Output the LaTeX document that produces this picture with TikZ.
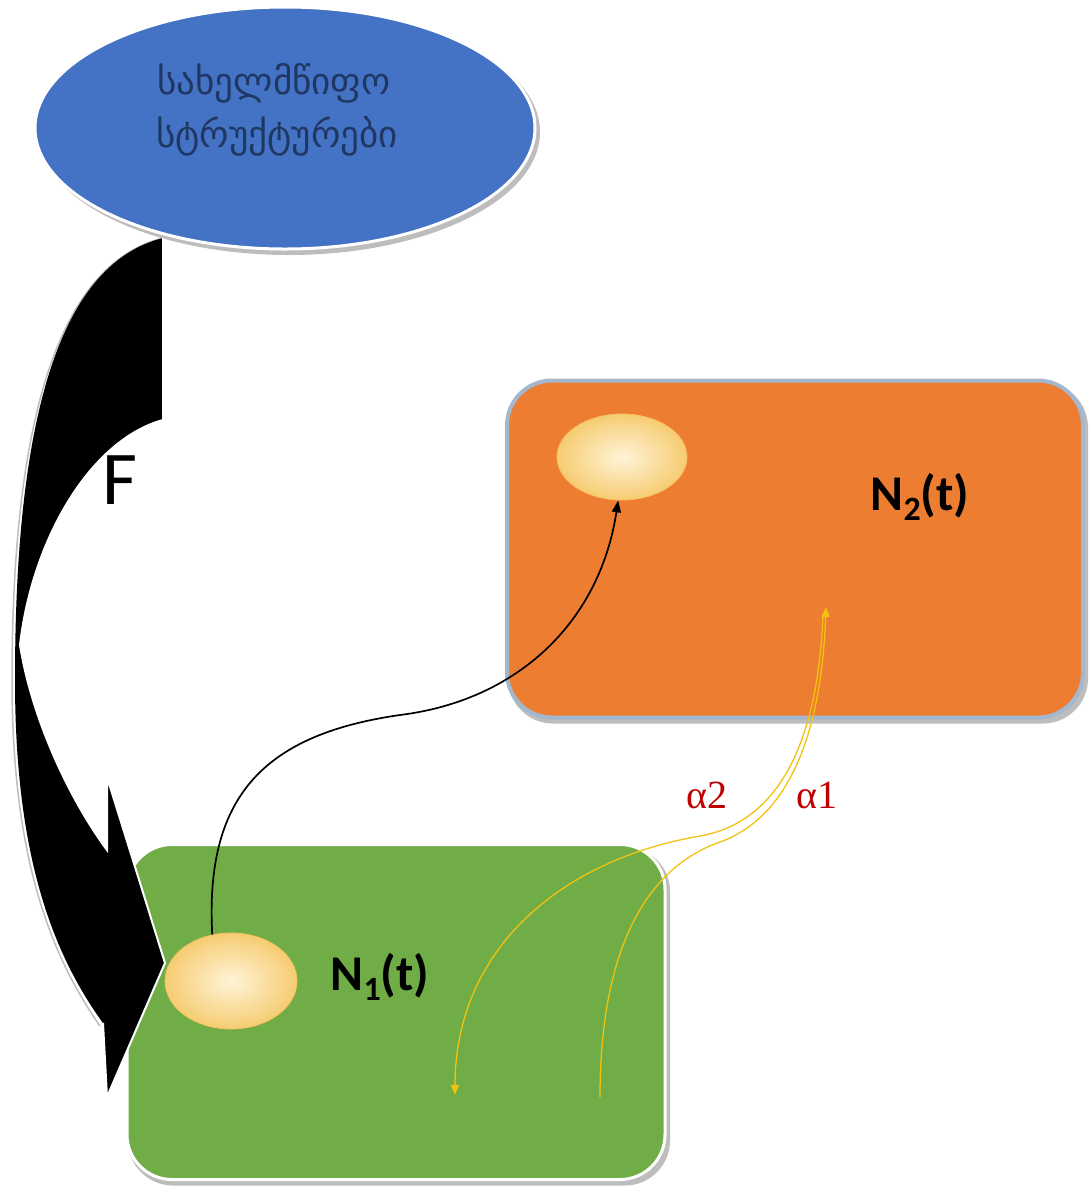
\documentclass[tikz,border=0pt]{standalone}
\usepackage{fontspec}
\usetikzlibrary{shapes.geometric,arrows.meta}
\newfontfamily\geofont{DejaVu Sans}
\newfontfamily\calfont{Carlito}
\newfontfamily\serfont{Liberation Serif}
\definecolor{stblue}{HTML}{4472C4}
\definecolor{geotext}{HTML}{1F3763}
\definecolor{boxorange}{HTML}{ED7D31}
\definecolor{orborder}{HTML}{A3B7CE}
\definecolor{boxgreen}{HTML}{70AD47}
\definecolor{yel}{HTML}{F2C20F}
\definecolor{alphared}{HTML}{C00000}
\definecolor{shadowgray}{HTML}{BDBDBD}
\definecolor{creamin}{HTML}{FFF4D8}
\definecolor{creamout}{HTML}{F6CC72}
\tikzset{
  statebox/.style={ellipse, fill=stblue, draw=white, line width=3pt, inner sep=0pt,
    minimum width=500pt, minimum height=242pt},
  popbox/.style={rectangle, rounded corners=45pt, inner sep=0pt},
  cell/.style={ellipse, inner sep=0pt, shade, inner color=creamin, outer color=creamout,
    draw=creamout!85!orange, line width=0.8pt},
  poplabel/.style={font=\calfont\bfseries\fontsize{50}{60}\selectfont, text=black, inner sep=0pt},
  alphalabel/.style={font=\serfont\fontsize{40}{46}\selectfont, text=alphared, inner sep=0pt},
  migr/.style={draw=yel, line width=1.3pt, -{Triangle[length=10pt,width=8pt]}},
  transfer/.style={draw=black, line width=1.7pt, -{Triangle[length=12pt,width=9pt]}},
  georgian/.style={font=\geofont\fontsize{37}{44}\selectfont, text=geotext, inner sep=0pt}
}
\begin{document}
\begin{tikzpicture}[x=1pt,y=-1pt]
\useasboundingbox (0,0) rectangle (1092,1187);
\fill[white] (0,0) rectangle (1092,1187);

% blue ellipse (state structures)
\fill[shadowgray] (289,132) ellipse (251pt and 123pt);
\node[statebox] (state) at (285,128) {};
\node[georgian] (stl1) at (274,83) {სახელმწიფო};
\node[georgian] (stl2) at (277,136) {სტრუქტურები};

% orange box (N2)
\node[popbox, fill=shadowgray, minimum width=580pt, minimum height=341pt] at (798,553) {};
\node[popbox, fill=boxorange, draw=orborder, line width=4pt, minimum width=576pt, minimum height=337pt] (box2) at (795,549) {};

% green box (N1)
\node[popbox, fill=shadowgray, minimum width=542pt, minimum height=339pt] at (399,1016) {};
\node[popbox, fill=boxgreen, draw=white, line width=3pt, minimum width=538pt, minimum height=335pt] (box1) at (396,1012) {};

% big curved arrow F
\draw[shadowgray, line width=1.5pt] (163,238) .. controls (55,265) and (12,430) .. (12,680)
  .. controls (12,850) and (47,950) .. (100,1026);
\fill[black] (163,238) .. controls (55,265) and (15,430) .. (15,680)
  .. controls (15,850) and (50,950) .. (103,1023) -- (107,1097) -- (165,963) -- (107,777) -- (107,850)
  .. controls (70,800) and (32,720) .. (20,645)
  .. controls (32,540) and (90,440) .. (163,420) -- cycle;
\draw[white, line width=2pt, line join=miter]
  (103,1023) -- (107,1097) -- (165,963) -- (107,777) -- (107,850)
  .. controls (70,800) and (32,720) .. (20,645)
  .. controls (32,540) and (90,440) .. (163,420) -- (163,238);
\node[font=\calfont\fontsize{76}{80}\selectfont, inner sep=0pt] (flabel) at (120,480) {F};

% cells
\node[cell, minimum width=132pt, minimum height=96pt] (n1) at (231,981) {};
\node[cell, minimum width=130pt, minimum height=86pt] (n2) at (622,457) {};

% labels
\node[poplabel] (n1lab) at (380,977) {N\raisebox{-0.2em}{\fontsize{34}{36}\selectfont 1}(t)};
\node[poplabel] (n2lab) at (920,497) {N\raisebox{-0.2em}{\fontsize{34}{36}\selectfont 2}(t)};

% transfer arrow N1 -> N2
\draw[transfer] (n1.112) .. controls (205,800) and (260,735) .. (400,715)
  .. controls (520,700) and (600,620) .. (n2.265);

% migration curves
\coordinate (a1s) at (600,1097);
\coordinate (a1e) at (826,607);
\coordinate (a2s) at (823,615);
\coordinate (a2e) at (455,1095);
\draw[migr] (a1s) .. controls (600,960) and (640,870) .. (720,842)
  .. controls (795,815) and (822,720) .. (a1e);
\draw[migr] (a2s) .. controls (818,740) and (780,822) .. (700,836)
  .. controls (560,860) and (455,950) .. (a2e);

\node[alphalabel] (al2) at (707,795) {α2};
\node[alphalabel] (al1) at (817,795) {α1};
\end{tikzpicture}
\end{document}
